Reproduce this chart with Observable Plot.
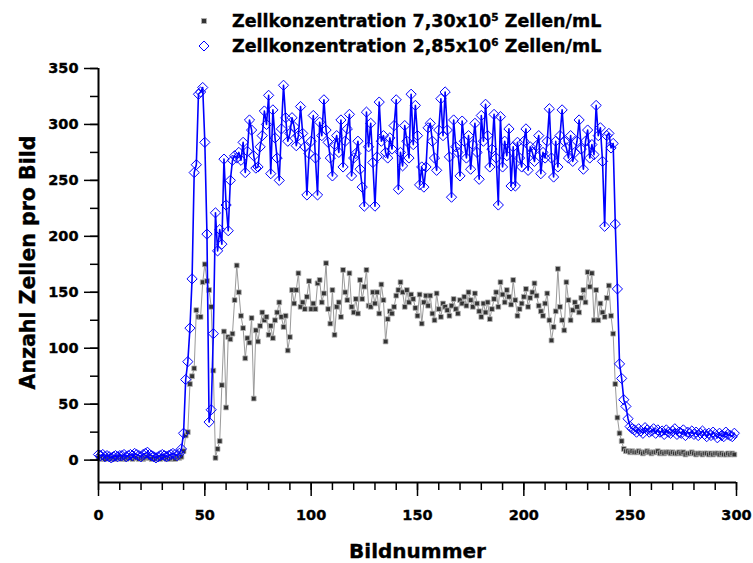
<!DOCTYPE html>
<html>
<head>
<meta charset="utf-8">
<script src="https://cdn.jsdelivr.net/npm/d3@7"></script>
<script src="https://cdn.jsdelivr.net/npm/@observablehq/plot@0.6"></script>
<style>
  html, body { margin: 0; padding: 0; background: #fff; }
  #wrap { position: relative; width: 753px; height: 563px; font-family: "DejaVu Sans", sans-serif; }
  #legend { position: absolute; left: 0; top: 0; width: 753px; height: 56px; }
  .row { position: absolute; left: 232px; white-space: nowrap; line-height: 1; font-weight: bold; font-size: 17.5px; color: #000; -webkit-text-stroke: 0.35px #000; }
  .row sup { font-size: 0.6em; line-height: 0; vertical-align: 0.6em; }
  .mk { position: absolute; }
  #chart { position: absolute; left: 0; top: 56px; }
  #chart svg text { stroke: #000; stroke-width: 0.35px; }
</style>
</head>
<body>
<div id="wrap">
  <div id="legend"></div>
  <div id="chart"></div>
</div>
<script>
// ---- data ----
const seriesLabels = [
  { base: "Zellkonzentration 7,30x10", exp: "5", unit: " Zellen/mL" },
  { base: "Zellkonzentration 2,85x10", exp: "6", unit: " Zellen/mL" }
];
const xTicks = [0, 50, 100, 150, 200, 250, 300];
const yTicks = [0, 50, 100, 150, 200, 250, 300, 350];
const xMinorTicks = d3.range(0, 301, 10);
const yMinorTicks = d3.range(0, 351, 25);
const xTitle = "Bildnummer";
const yTitle = "Anzahl Zellen pro Bild";

// low concentration series (7,30x10^5), frames 0..299
const lowValues = [
  2,1,2,1,3,2,1,2,1,2,
  3,1,2,1,2,2,1,3,2,1,
  2,1,2,3,2,1,2,1,2,1,
  3,2,1,2,1,2,1,3,2,3,
  8,22,25,68,75,82,134,128,128,159,
  175,160,152,137,80,2,10,17,67,115,
  47,110,108,113,143,174,150,129,118,91,
  109,105,127,55,116,106,120,132,125,128,
  112,120,109,125,132,141,128,119,129,98,
  110,152,140,152,167,137,141,135,146,160,
  135,140,135,158,161,141,149,176,135,122,
  152,112,137,141,128,170,150,143,167,137,
  132,144,131,161,144,155,170,138,137,150,
  140,150,131,157,143,106,126,133,131,137,
  147,152,159,150,137,152,141,148,144,136,
  129,148,122,141,147,138,147,131,125,149,
  135,128,140,137,134,129,138,144,135,131,
  143,140,146,138,150,143,137,149,140,133,
  128,140,132,141,126,135,144,150,137,159,
  148,141,152,146,139,161,143,129,135,140,
  146,153,137,145,150,158,147,138,133,129,
  140,149,125,107,119,133,171,137,125,116,
  159,143,125,134,141,137,132,145,152,141,
  168,155,167,125,152,125,140,132,128,145,
  156,129,113,68,38,24,17,10,8,8,
  7,8,7,7,8,7,6,7,8,7,
  6,7,7,8,6,7,6,7,7,6,
  7,6,6,7,6,7,5,6,6,7,
  6,5,6,6,5,6,6,5,6,5,
  6,6,5,6,5,5,6,5,6,5
];

// high concentration series (2,85x10^6), frames 0..299
const highValues = [
  5,4,5,3,4,3,2,3,4,3,
  4,4,5,3,4,5,4,6,5,4,
  3,5,6,7,5,4,3,2,3,4,
  5,4,3,4,5,6,5,4,6,10,
  24,72,88,118,162,257,264,327,329,333,
  284,202,34,45,113,221,187,206,193,269,
  228,205,250,268,272,270,275,268,284,257,
  276,304,295,272,261,262,280,290,312,300,
  326,256,313,288,270,250,296,335,306,285,
  292,306,298,281,290,316,292,280,237,274,
  285,308,270,237,302,290,322,295,284,270,
  254,282,290,275,304,262,285,296,309,254,
  270,274,285,260,244,227,311,280,301,266,
  227,271,320,285,290,275,270,288,278,299,
  322,242,275,263,299,285,270,327,282,317,
  290,246,262,244,262,297,301,285,270,259,
  295,323,290,329,295,271,235,304,280,275,
  254,303,285,270,290,260,282,301,275,251,
  308,285,318,290,262,278,309,270,228,307,
  262,285,272,296,245,280,245,284,270,262,
  285,296,259,280,275,267,281,290,256,275,
  270,285,314,270,253,285,262,290,313,285,
  279,270,290,267,275,285,304,278,260,285,
  295,270,282,273,317,290,297,267,209,290,
  292,279,283,211,153,86,73,54,48,37,
  30,28,27,25,28,26,24,29,27,25,
  26,28,24,27,25,26,23,27,25,24,
  26,28,23,25,24,27,22,25,24,26,
  23,25,22,24,26,23,21,24,22,25,
  23,20,24,22,21,25,23,22,21,24
];

const lowData = lowValues.map((v, i) => ({ frame: i, value: v }));
const highData = highValues.map((v, i) => ({ frame: i, value: v }));

// ---- styles ----
const lowLine = "#9a9a9a";
const lowFill = "#333333";
const lowStroke = "#b4b4b4";
const highColor = "#0000ff";

// ---- legend (HTML, above the SVG) ----
const legend = document.getElementById("legend");
seriesLabels.forEach((s, i) => {
  const row = document.createElement("div");
  row.className = "row";
  row.style.top = (13 + i * 25) + "px";
  row.innerHTML = `${s.base}<sup>${s.exp}</sup>${s.unit}`;
  legend.appendChild(row);
  const mk = document.createElementNS("http://www.w3.org/2000/svg", "svg");
  mk.setAttribute("class", "mk");
  mk.setAttribute("width", 16);
  mk.setAttribute("height", 16);
  mk.style.left = "196px";
  mk.style.top = (13 + i * 25) + "px";
  if (i === 0) {
    mk.innerHTML = `<rect x="5.5" y="5.5" width="5" height="5" fill="${lowFill}" stroke="${lowStroke}" stroke-width="0.8"/>`;
  } else {
    mk.innerHTML = `<path d="M8,3 L13,8 L8,13 L3,8 Z" fill="none" stroke="${highColor}" stroke-width="1"/>`;
  }
  legend.appendChild(mk);
});

// ---- chart ----
const chart = Plot.plot({
  width: 753,
  height: 507,
  marginTop: 12,
  marginBottom: 81,
  marginLeft: 98,
  marginRight: 17,
  x: { domain: [0, 300] },
  y: { domain: [-20, 350] },
  style: { fontFamily: "DejaVu Sans, sans-serif", fontWeight: "bold", fontSize: "14.5px", color: "#000", background: "#fff" },
  marks: [
    Plot.lineY(lowData, { x: "frame", y: "value", stroke: lowLine, strokeWidth: 1 }),
    Plot.dot(lowData, { x: "frame", y: "value", symbol: "square", r: 2.7, fill: lowFill, stroke: lowStroke, strokeWidth: 0.8 }),
    Plot.lineY(highData, { x: "frame", y: "value", stroke: highColor, strokeWidth: 1.6 }),
    Plot.dot(highData, { x: "frame", y: "value", symbol: "diamond2", r: 4.6, fill: "none", stroke: highColor, strokeWidth: 1 }),
    Plot.axisX({ ticks: xMinorTicks, tickSize: 8, tickFormat: () => "", label: null, strokeWidth: 1.5 }),
    Plot.axisX({ ticks: xTicks, tickSize: 14, tickPadding: 13, label: null, strokeWidth: 1.5 }),
    Plot.axisY({ ticks: yMinorTicks, tickSize: 8, tickFormat: () => "", label: null, strokeWidth: 1.5 }),
    Plot.axisY({ ticks: yTicks, tickSize: 14, tickPadding: 6, label: null, strokeWidth: 1.5 }),
    Plot.ruleX([0], { stroke: "#000", strokeWidth: 2 }),
    Plot.ruleY([-20], { stroke: "#000", strokeWidth: 2 }),
    Plot.text([xTitle], { text: d => d, frameAnchor: "bottom", lineAnchor: "middle", textAnchor: "middle", dy: 69, fontSize: 20, fontWeight: "bold", fill: "#000" }),
    Plot.text([yTitle], { text: d => d, frameAnchor: "left", rotate: -90, lineAnchor: "middle", textAnchor: "middle", dx: -70, dy: -13, fontSize: 20.5, fontWeight: "bold", fill: "#000" })
  ]
});
document.getElementById("chart").appendChild(chart);
</script>
</body>
</html>
